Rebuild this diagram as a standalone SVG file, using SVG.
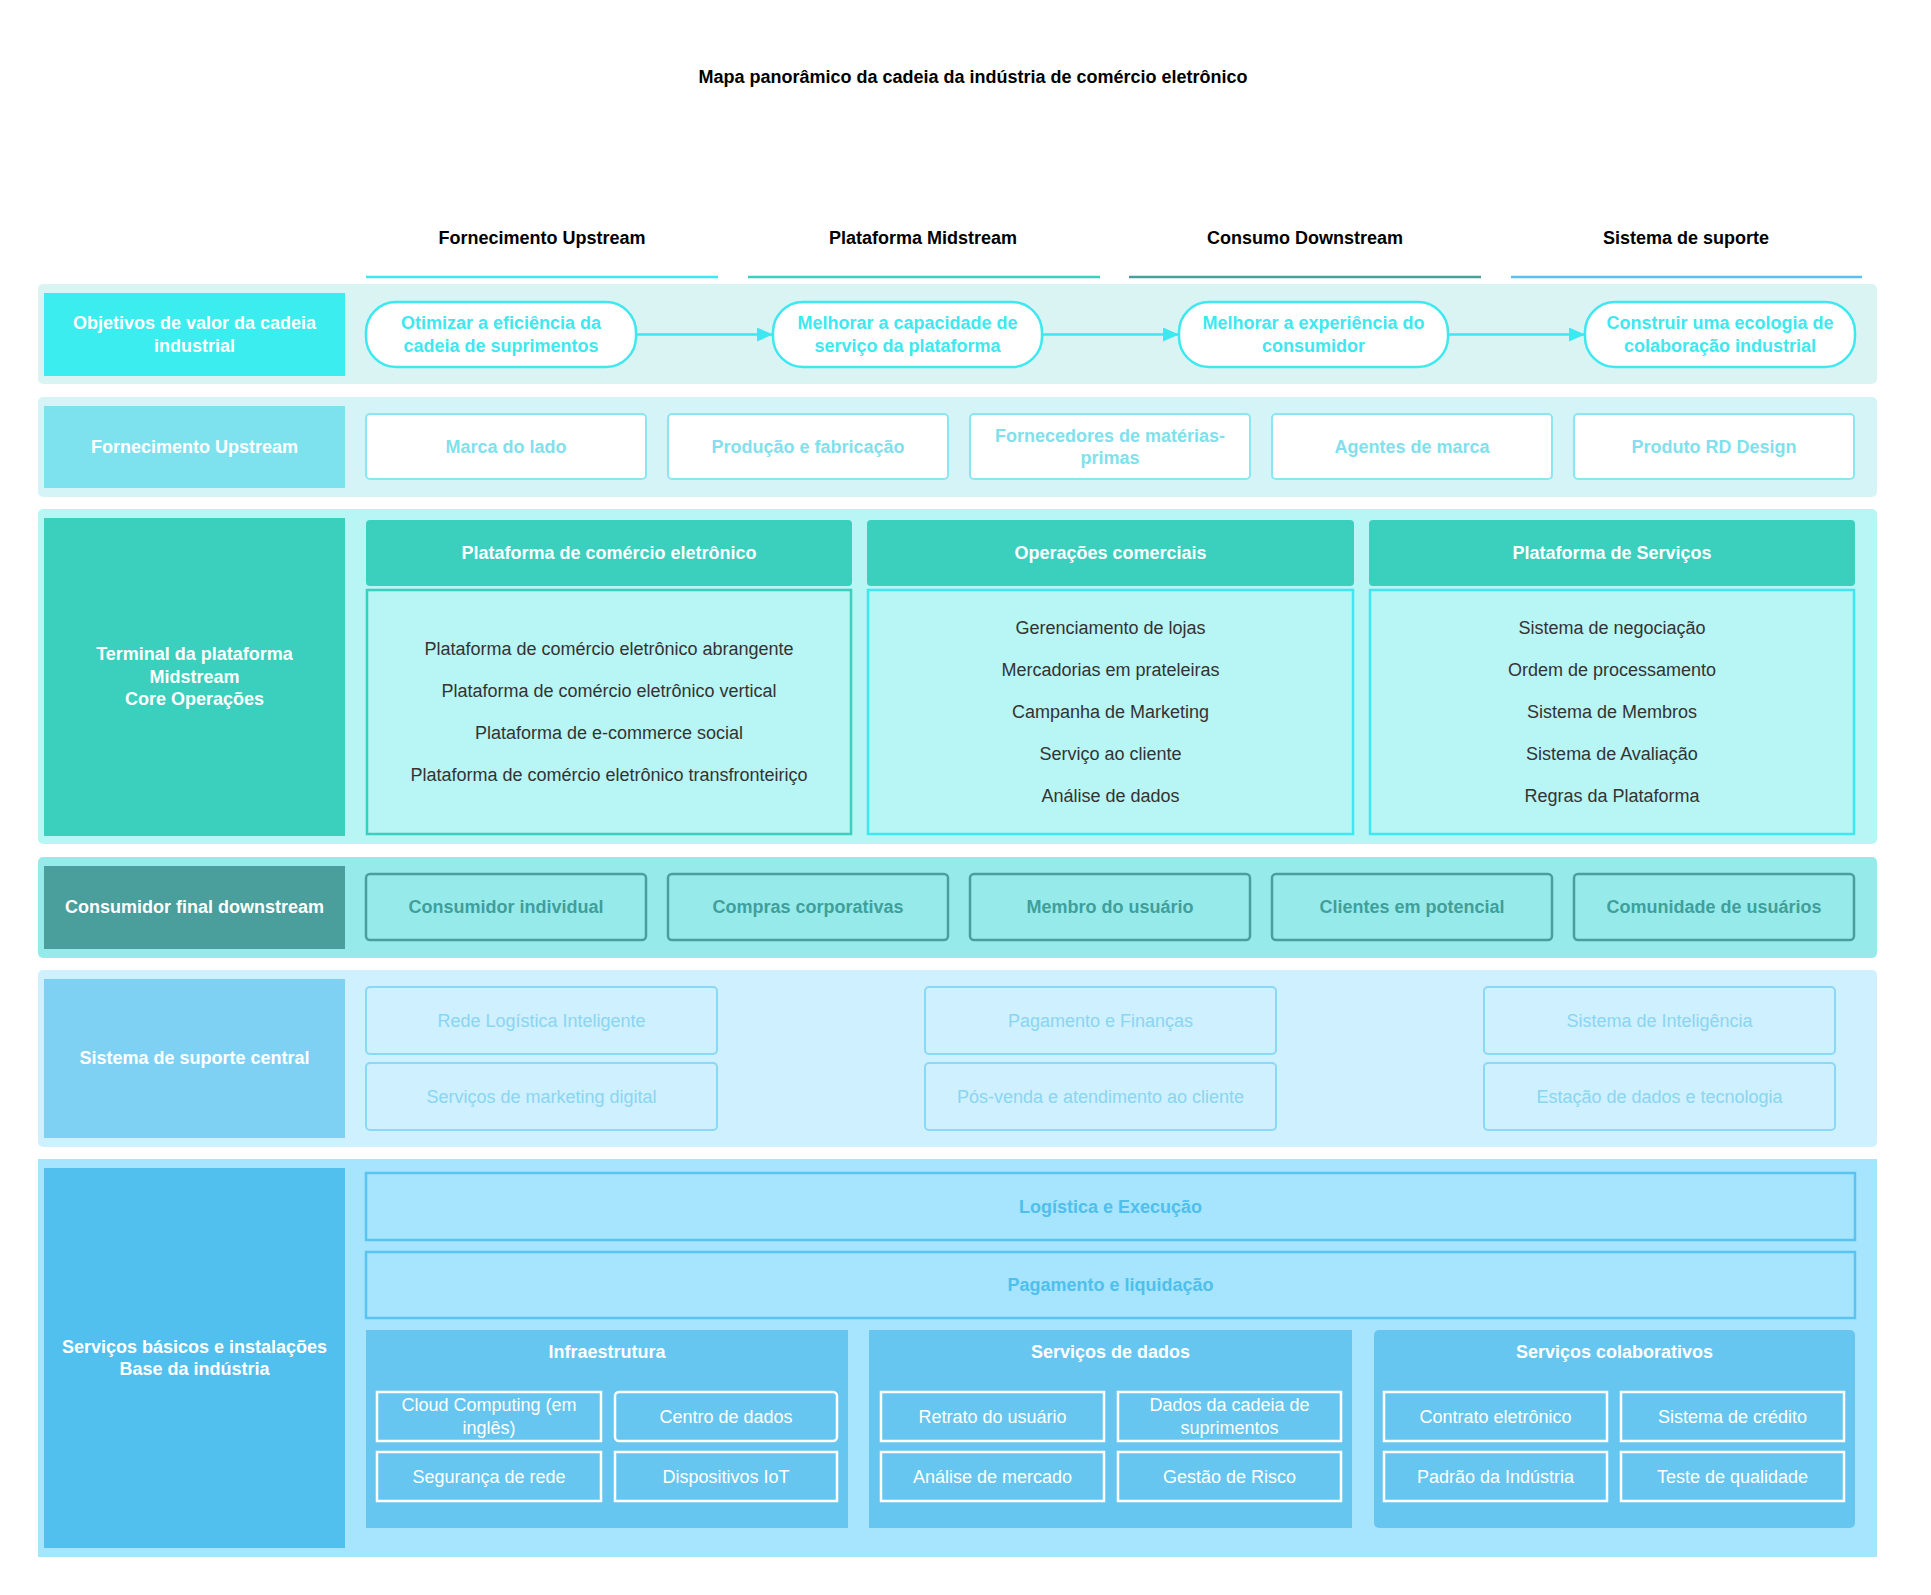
<svg xmlns="http://www.w3.org/2000/svg" width="1931" height="1595" viewBox="0 0 1931 1595">
<defs>
<style>
text{font-family:"Liberation Sans",Arial,sans-serif;font-size:18px;text-anchor:middle;dominant-baseline:central}
.b{font-weight:bold}
.title{font-size:18px;font-weight:bold;fill:#000}
.hdr{font-weight:bold;fill:#000}
.lbl{font-weight:bold;fill:#fff}
.pill{fill:#fff;stroke:#3de8f0;stroke-width:2.5}
.pillt{font-weight:bold;fill:#3de8f0}
.up{fill:#fff;stroke:#8ae6f0;stroke-width:2}
.upt{font-weight:bold;fill:#80e1ec}
.ph{fill:#3bcfbd}
.pht{font-weight:bold;fill:#fff}
.body{fill:#b8f5f5;stroke-width:2.5}
.bt{fill:#333}
.dn{fill:#97eaea;stroke:#4a9e9c;stroke-width:2.5}
.dnt{font-weight:bold;fill:#3f9f9b}
.sp{fill:#cff0fe;stroke:#8ad8f5;stroke-width:2}
.spt{fill:#8ad5f2}
.bar{fill:#a7e4fe;stroke:#5ac4f0;stroke-width:2.5}
.bart{font-weight:bold;fill:#4fbfeb}
.bp{fill:#66c6ef}
.ib{fill:#66c6ef;stroke:#fff;stroke-width:2.5}
.ibt{fill:#fff}
.conn{stroke:#3de8f0;stroke-width:2.5;fill:none}
</style>
<marker id="arr" markerUnits="userSpaceOnUse" markerWidth="16" markerHeight="14" refX="16" refY="7" orient="auto">
<path d="M0,0 L16,7 L0,14 z" fill="#3de8f0"/>
</marker>
</defs>
<rect width="1931" height="1595" fill="#fff"/>

<text class="title" x="973" y="77">Mapa panorâmico da cadeia da indústria de comércio eletrônico</text>

<g id="column-headers">
<text class="hdr" x="542" y="238">Fornecimento Upstream</text>
<text class="hdr" x="923" y="238">Plataforma Midstream</text>
<text class="hdr" x="1305" y="238">Consumo Downstream</text>
<text class="hdr" x="1686" y="238">Sistema de suporte</text>
<line x1="366" y1="277" x2="718" y2="277" stroke="#3de8f0" stroke-width="2.5"/>
<line x1="748" y1="277" x2="1100" y2="277" stroke="#3bcfbd" stroke-width="2.5"/>
<line x1="1129" y1="277" x2="1481" y2="277" stroke="#4a9e9c" stroke-width="2.5"/>
<line x1="1511" y1="277" x2="1862" y2="277" stroke="#5bc0f0" stroke-width="2.5"/>
</g>

<!-- Row 1 -->
<g id="row-objetivos">
<rect x="38" y="284" width="1839" height="100" rx="5" fill="#daf4f4"/>
<rect x="44" y="293" width="301" height="83" fill="#3cedf0"/>
<text class="lbl" x="194.5" y="323">Objetivos de valor da cadeia</text>
<text class="lbl" x="194.5" y="346">industrial</text>
</g>
<g id="goal1">
<rect class="pill" x="366" y="302" width="270" height="65" rx="30"/>
<text class="pillt" x="501" y="323">Otimizar a eficiência da</text>
<text class="pillt" x="501" y="346">cadeia de suprimentos</text>
</g>
<g id="goal2">
<rect class="pill" x="773" y="302" width="269" height="65" rx="30"/>
<text class="pillt" x="907.5" y="323">Melhorar a capacidade de</text>
<text class="pillt" x="907.5" y="346">serviço da plataforma</text>
</g>
<g id="goal3">
<rect class="pill" x="1179" y="302" width="269" height="65" rx="30"/>
<text class="pillt" x="1313.5" y="323">Melhorar a experiência do</text>
<text class="pillt" x="1313.5" y="346">consumidor</text>
</g>
<g id="goal4">
<rect class="pill" x="1585" y="302" width="270" height="65" rx="30"/>
<text class="pillt" x="1720" y="323">Construir uma ecologia de</text>
<text class="pillt" x="1720" y="346">colaboração industrial</text>
</g>
<g id="connectors">
<line class="conn" x1="636" y1="334.5" x2="773" y2="334.5" marker-end="url(#arr)"/>
<line class="conn" x1="1042" y1="334.5" x2="1179" y2="334.5" marker-end="url(#arr)"/>
<line class="conn" x1="1448" y1="334.5" x2="1585" y2="334.5" marker-end="url(#arr)"/>
</g>

<!-- Row 2 -->
<g id="row-upstream">
<rect x="38" y="397" width="1839" height="100" rx="5" fill="#d5f4f8"/>
<rect x="44" y="406" width="301" height="82" fill="#7ee2ee"/>
<text class="lbl" x="194.5" y="447">Fornecimento Upstream</text>
</g>
<g id="up1"><rect class="up" x="366" y="414" width="280" height="65" rx="4"/><text class="upt" x="506" y="447">Marca do lado</text></g>
<g id="up2"><rect class="up" x="668" y="414" width="280" height="65" rx="4"/><text class="upt" x="808" y="447">Produção e fabricação</text></g>
<g id="up3"><rect class="up" x="970" y="414" width="280" height="65" rx="4"/><text class="upt" x="1110" y="436">Fornecedores de matérias-</text><text class="upt" x="1110" y="458">primas</text></g>
<g id="up4"><rect class="up" x="1272" y="414" width="280" height="65" rx="4"/><text class="upt" x="1412" y="447">Agentes de marca</text></g>
<g id="up5"><rect class="up" x="1574" y="414" width="280" height="65" rx="4"/><text class="upt" x="1714" y="447">Produto RD Design</text></g>

<!-- Row 3 -->
<g id="row-midstream">
<rect x="38" y="509" width="1839" height="335" rx="5" fill="#b8f5f5"/>
<rect x="44" y="518" width="301" height="318" fill="#3bcfbd"/>
<text class="lbl" x="194.5" y="654">Terminal da plataforma</text>
<text class="lbl" x="194.5" y="676.5">Midstream</text>
<text class="lbl" x="194.5" y="699">Core Operações</text>
</g>
<g id="panel-ecommerce">
<rect class="ph" x="366" y="520" width="486" height="66" rx="4"/>
<text class="pht" x="609" y="553">Plataforma de comércio eletrônico</text>
<rect class="body" x="367" y="590" width="484" height="244" stroke="#3bcfbd"/>
<text class="bt" x="609" y="649">Plataforma de comércio eletrônico abrangente</text>
<text class="bt" x="609" y="691">Plataforma de comércio eletrônico vertical</text>
<text class="bt" x="609" y="733">Plataforma de e-commerce social</text>
<text class="bt" x="609" y="775">Plataforma de comércio eletrônico transfronteiriço</text>
</g>
<g id="panel-operacoes">
<rect class="ph" x="867" y="520" width="487" height="66" rx="4"/>
<text class="pht" x="1110.5" y="553">Operações comerciais</text>
<rect class="body" x="868" y="590" width="485" height="244" stroke="#3de8f0"/>
<text class="bt" x="1110.5" y="628">Gerenciamento de lojas</text>
<text class="bt" x="1110.5" y="670">Mercadorias em prateleiras</text>
<text class="bt" x="1110.5" y="712">Campanha de Marketing</text>
<text class="bt" x="1110.5" y="754">Serviço ao cliente</text>
<text class="bt" x="1110.5" y="796">Análise de dados</text>
</g>
<g id="panel-servicos">
<rect class="ph" x="1369" y="520" width="486" height="66" rx="4"/>
<text class="pht" x="1612" y="553">Plataforma de Serviços</text>
<rect class="body" x="1370" y="590" width="484" height="244" stroke="#3de8f0"/>
<text class="bt" x="1612" y="628">Sistema de negociação</text>
<text class="bt" x="1612" y="670">Ordem de processamento</text>
<text class="bt" x="1612" y="712">Sistema de Membros</text>
<text class="bt" x="1612" y="754">Sistema de Avaliação</text>
<text class="bt" x="1612" y="796">Regras da Plataforma</text>
</g>

<!-- Row 4 -->
<g id="row-downstream">
<rect x="38" y="857" width="1839" height="101" rx="5" fill="#97eaea"/>
<rect x="44" y="866" width="301" height="83" fill="#4a9e9c"/>
<text class="lbl" x="194.5" y="907">Consumidor final downstream</text>
</g>
<g id="dn1"><rect class="dn" x="366" y="874" width="280" height="66" rx="4"/><text class="dnt" x="506" y="907">Consumidor individual</text></g>
<g id="dn2"><rect class="dn" x="668" y="874" width="280" height="66" rx="4"/><text class="dnt" x="808" y="907">Compras corporativas</text></g>
<g id="dn3"><rect class="dn" x="970" y="874" width="280" height="66" rx="4"/><text class="dnt" x="1110" y="907">Membro do usuário</text></g>
<g id="dn4"><rect class="dn" x="1272" y="874" width="280" height="66" rx="4"/><text class="dnt" x="1412" y="907">Clientes em potencial</text></g>
<g id="dn5"><rect class="dn" x="1574" y="874" width="280" height="66" rx="4"/><text class="dnt" x="1714" y="907">Comunidade de usuários</text></g>

<!-- Row 5 -->
<g id="row-suporte">
<rect x="38" y="970" width="1839" height="177" rx="5" fill="#cff0fe"/>
<rect x="44" y="979" width="301" height="159" fill="#7fd1f4"/>
<text class="lbl" x="194.5" y="1058">Sistema de suporte central</text>
</g>
<g id="sp1"><rect class="sp" x="366" y="987" width="351" height="67" rx="4"/><text class="spt" x="541.5" y="1021">Rede Logística Inteligente</text></g>
<g id="sp2"><rect class="sp" x="366" y="1063" width="351" height="67" rx="4"/><text class="spt" x="541.5" y="1097">Serviços de marketing digital</text></g>
<g id="sp3"><rect class="sp" x="925" y="987" width="351" height="67" rx="4"/><text class="spt" x="1100.5" y="1021">Pagamento e Finanças</text></g>
<g id="sp4"><rect class="sp" x="925" y="1063" width="351" height="67" rx="4"/><text class="spt" x="1100.5" y="1097">Pós-venda e atendimento ao cliente</text></g>
<g id="sp5"><rect class="sp" x="1484" y="987" width="351" height="67" rx="4"/><text class="spt" x="1659.5" y="1021">Sistema de Inteligência</text></g>
<g id="sp6"><rect class="sp" x="1484" y="1063" width="351" height="67" rx="4"/><text class="spt" x="1659.5" y="1097">Estação de dados e tecnologia</text></g>

<!-- Row 6 -->
<g id="row-base">
<rect x="38" y="1159" width="1839" height="398" fill="#a7e4fe"/>
<rect x="44" y="1168" width="301" height="380" fill="#52c0ef"/>
<text class="lbl" x="194.5" y="1347">Serviços básicos e instalações</text>
<text class="lbl" x="194.5" y="1369">Base da indústria</text>
</g>
<g id="bar-logistica"><rect class="bar" x="366" y="1173" width="1489" height="67"/><text class="bart" x="1110.5" y="1207">Logística e Execução</text></g>
<g id="bar-pagamento"><rect class="bar" x="366" y="1252" width="1489" height="66"/><text class="bart" x="1110.5" y="1285">Pagamento e liquidação</text></g>

<g id="panel-infra">
<rect class="bp" x="366" y="1330" width="482" height="198"/>
<text class="pht" x="607" y="1352">Infraestrutura</text>
<rect class="ib" x="377" y="1392" width="224" height="49"/><text class="ibt" x="489" y="1405">Cloud Computing (em</text><text class="ibt" x="489" y="1428">inglês)</text>
<rect class="ib" x="615" y="1392" width="222" height="49" rx="4"/><text class="ibt" x="726" y="1417">Centro de dados</text>
<rect class="ib" x="377" y="1452" width="224" height="49"/><text class="ibt" x="489" y="1477">Segurança de rede</text>
<rect class="ib" x="615" y="1452" width="222" height="49"/><text class="ibt" x="726" y="1477">Dispositivos IoT</text>
</g>
<g id="panel-dados">
<rect class="bp" x="869" y="1330" width="483" height="198"/>
<text class="pht" x="1110.5" y="1352">Serviços de dados</text>
<rect class="ib" x="881" y="1392" width="223" height="49"/><text class="ibt" x="992.5" y="1417">Retrato do usuário</text>
<rect class="ib" x="1118" y="1392" width="223" height="49"/><text class="ibt" x="1229.5" y="1405">Dados da cadeia de</text><text class="ibt" x="1229.5" y="1428">suprimentos</text>
<rect class="ib" x="881" y="1452" width="223" height="49"/><text class="ibt" x="992.5" y="1477">Análise de mercado</text>
<rect class="ib" x="1118" y="1452" width="223" height="49"/><text class="ibt" x="1229.5" y="1477">Gestão de Risco</text>
</g>
<g id="panel-colab">
<rect class="bp" x="1374" y="1330" width="481" height="198" rx="5"/>
<text class="pht" x="1614.5" y="1352">Serviços colaborativos</text>
<rect class="ib" x="1384" y="1392" width="223" height="49"/><text class="ibt" x="1495.5" y="1417">Contrato eletrônico</text>
<rect class="ib" x="1621" y="1392" width="223" height="49"/><text class="ibt" x="1732.5" y="1417">Sistema de crédito</text>
<rect class="ib" x="1384" y="1452" width="223" height="49"/><text class="ibt" x="1495.5" y="1477">Padrão da Indústria</text>
<rect class="ib" x="1621" y="1452" width="223" height="49"/><text class="ibt" x="1732.5" y="1477">Teste de qualidade</text>
</g>
</svg>
